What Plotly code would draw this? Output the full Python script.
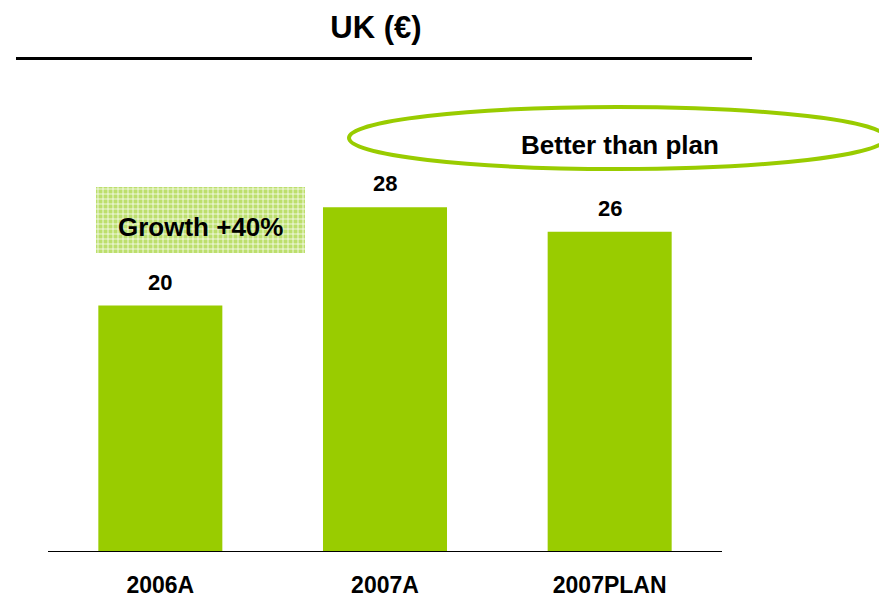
import plotly.graph_objects as go

# Revenue by period, UK (EUR)
categories = ["2006A", "2007A", "2007PLAN"]
values = [20, 28, 26]

title_text = "UK (€)"
growth_text = "Growth +40%"
callout_text = "Better than plan"

GREEN = "#99CC00"
FONT = "Liberation Sans, Arial, sans-serif"

W, H = 879, 597
ML, MR, MT, MB = 48, 157, 60, 46
PW, PH = W - ML - MR, H - MT - MB


def px(x):
    """Pixel column -> paper x."""
    return (x - ML) / PW


def py(y):
    """Pixel row -> paper y."""
    return (H - MB - y) / PH


fig = go.Figure()
fig.add_trace(go.Bar(
    x=categories, y=values,
    marker=dict(color=GREEN, line=dict(width=0)),
    hoverinfo="x+y",
))

# value labels above each bar
for c, v in zip(categories, values):
    fig.add_annotation(
        x=c, y=v, xref="x", yref="y", text=str(v), showarrow=False,
        xanchor="center", yanchor="bottom", yshift=9,
        font=dict(family=FONT, size=22, color="black", weight="bold"),
    )

shapes = []
# rule under the title
shapes.append(dict(type="line", xref="paper", yref="paper",
                   x0=px(16), x1=px(752), y0=py(58.5), y1=py(58.5),
                   line=dict(color="black", width=3)))

# hatched "growth" box
bx0, bx1, by0, by1 = 96, 305, 187, 253
shapes.append(dict(type="rect", xref="paper", yref="paper",
                   x0=px(bx0), x1=px(bx1), y0=py(by1), y1=py(by0),
                   fillcolor="#BCDF6C", line=dict(width=0), layer="above"))
step = 5
xx = bx0 + 2
while xx < bx1:
    shapes.append(dict(type="line", xref="paper", yref="paper",
                       x0=px(xx), x1=px(xx), y0=py(by1), y1=py(by0),
                       line=dict(color="rgba(255,255,255,0.5)", width=1.5), layer="above"))
    xx += step
yy = by0 + 2
while yy < by1:
    shapes.append(dict(type="line", xref="paper", yref="paper",
                       x0=px(bx0), x1=px(bx1), y0=py(yy), y1=py(yy),
                       line=dict(color="rgba(255,255,255,0.5)", width=1.5), layer="above"))
    yy += step

# callout ellipse
shapes.append(dict(type="circle", xref="paper", yref="paper",
                   x0=px(349), x1=px(886), y0=py(169), y1=py(107),
                   line=dict(color=GREEN, width=4), fillcolor="rgba(0,0,0,0)"))

fig.add_annotation(x=px(200), y=py(227), xref="paper", yref="paper",
                   text=growth_text, showarrow=False,
                   xanchor="center", yanchor="middle",
                   font=dict(family=FONT, size=26, color="black", weight="bold"))
fig.add_annotation(x=px(620), y=py(145), xref="paper", yref="paper",
                   text=callout_text, showarrow=False,
                   xanchor="center", yanchor="middle",
                   font=dict(family=FONT, size=26, color="black", weight="bold"))

fig.update_layout(
    width=W, height=H,
    margin=dict(l=ML, r=MR, t=MT, b=MB, pad=0, autoexpand=False),
    paper_bgcolor="white", plot_bgcolor="white",
    bargap=0.448,
    showlegend=False,
    shapes=shapes,
    title=dict(text=title_text, x=376 / W, xanchor="center",
               y=1 - 27 / H, yanchor="middle", xref="container", yref="container",
               font=dict(family=FONT, size=31, color="black", weight="bold")),
    xaxis=dict(range=[-0.5, 2.5], showline=True, linecolor="black", linewidth=1,
               ticks="", showgrid=False, zeroline=False, automargin=False,
               ticklabelstandoff=13,
               tickfont=dict(family=FONT, size=23, color="black", weight="bold")),
    yaxis=dict(range=[0, 40], visible=False, showgrid=False, zeroline=False,
               automargin=False),
)

fig.write_html("out.html")
